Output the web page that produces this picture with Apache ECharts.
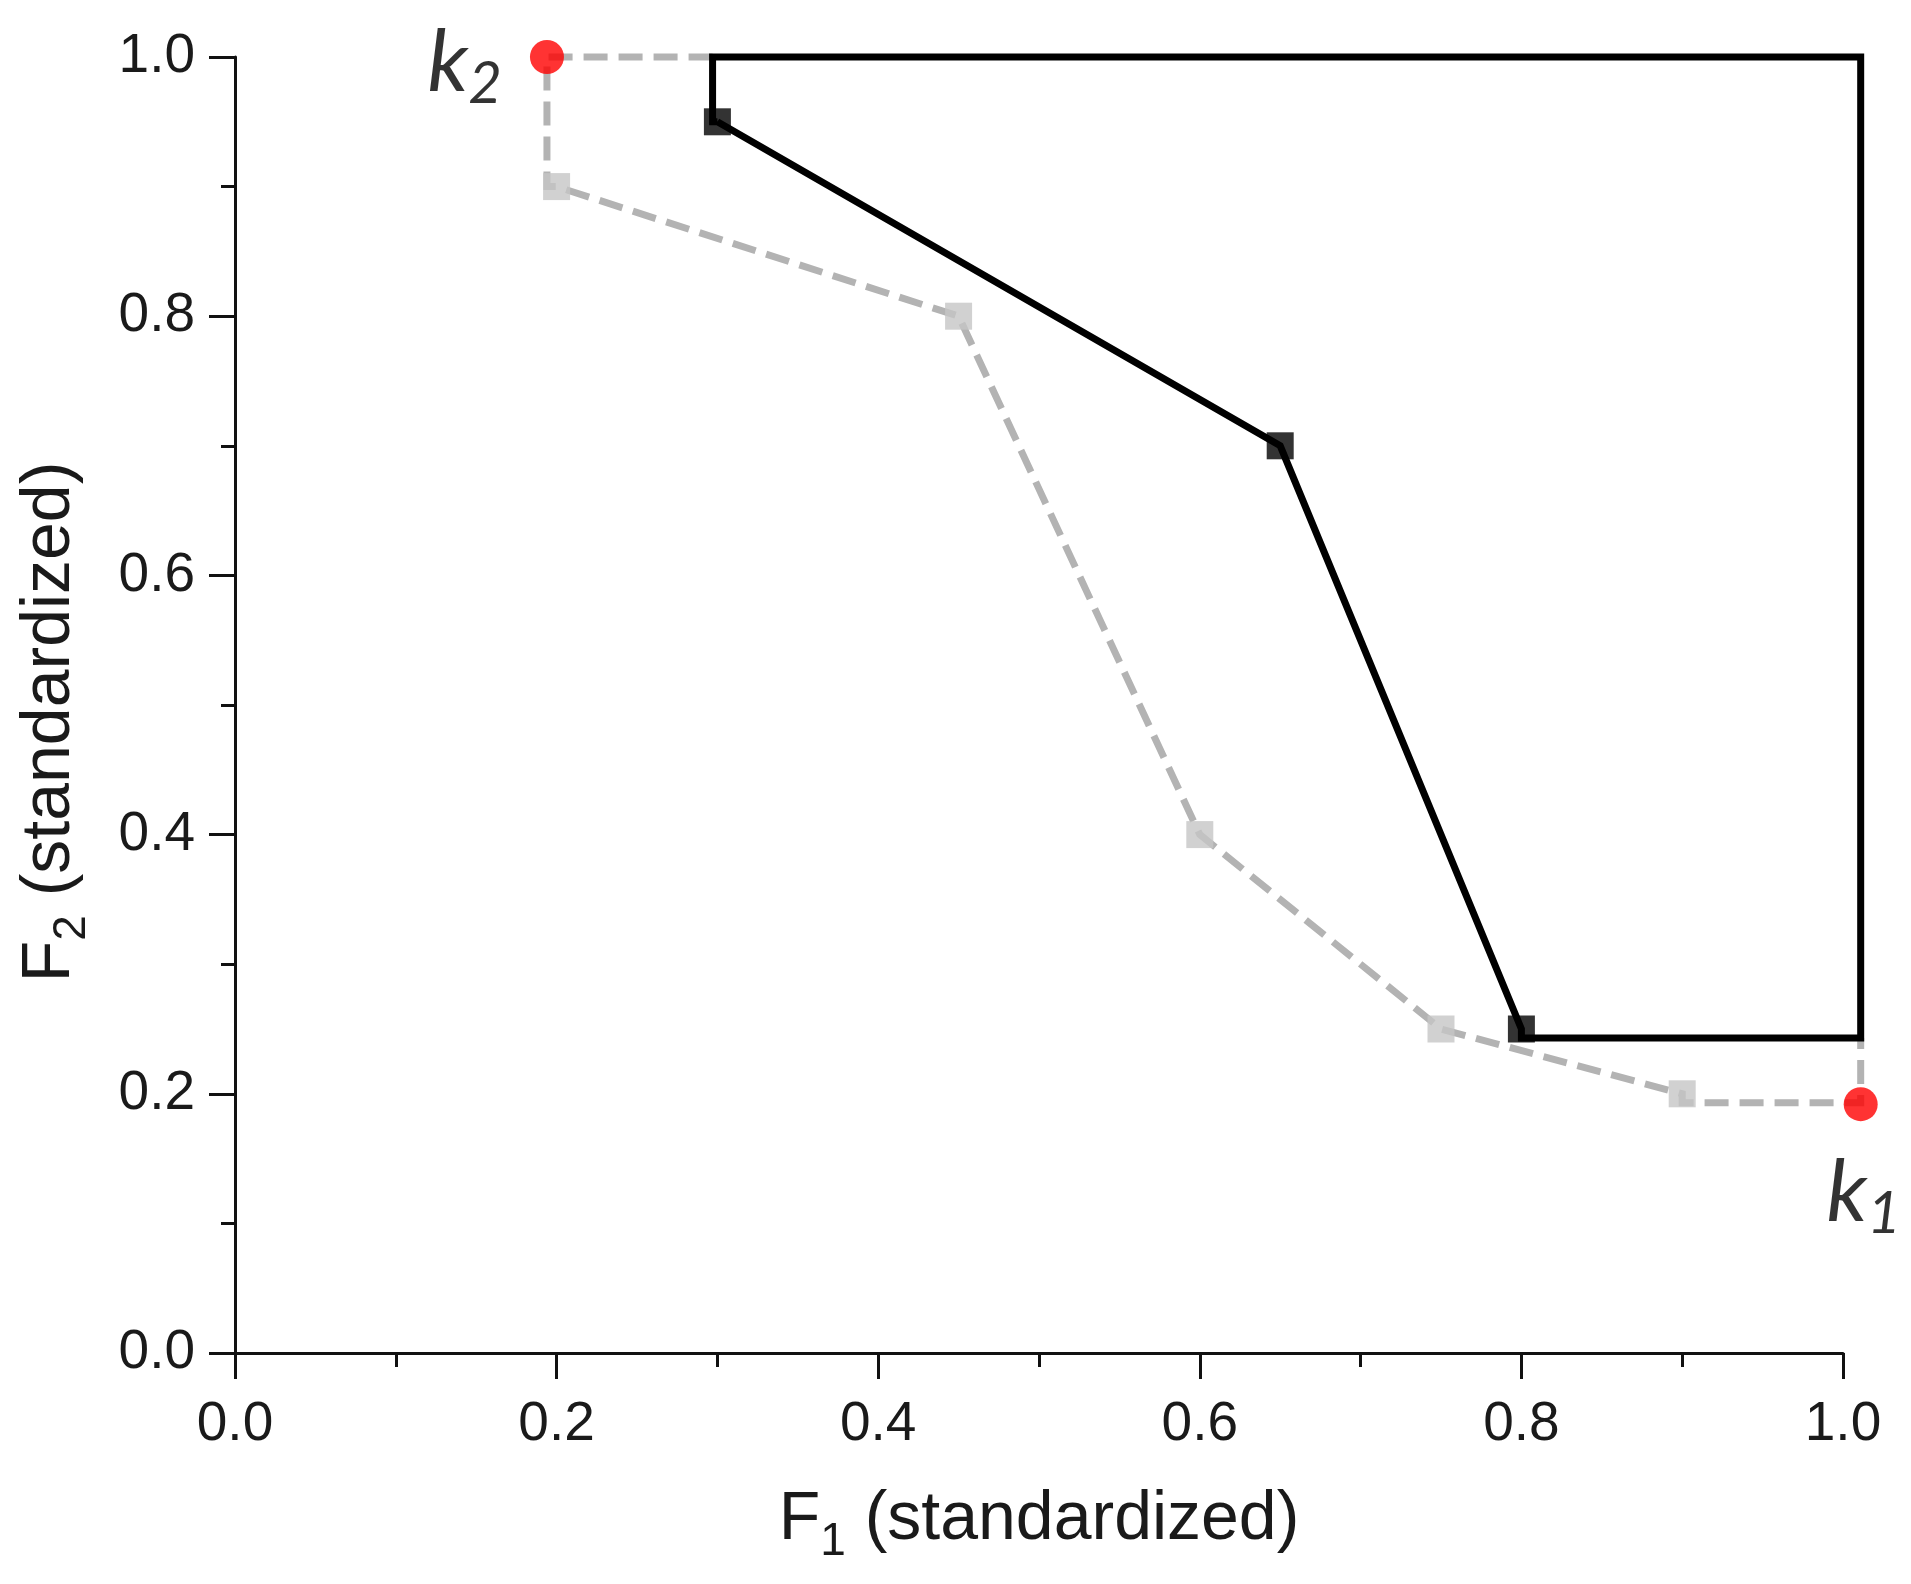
<!DOCTYPE html>
<html>
<head>
<meta charset="utf-8">
<script src="https://cdn.jsdelivr.net/npm/echarts@6/dist/echarts.min.js"></script>
<style>
  html, body { margin: 0; padding: 0; background: #fff; }
  #chart { width: 1911px; height: 1584px; }
</style>
</head>
<body>
<div id="chart"></div>
<script>
// 数据（F1, F2 都是标准化后的值）
const grayPath = [[0.297, 1.0], [0.194, 1.0], [0.194, 0.9], [0.2, 0.9], [0.45, 0.8], [0.6, 0.4], [0.75, 0.25], [0.9, 0.2], [0.9, 0.193], [1.011, 0.193], [1.011, 0.243]]
const grayPoints = [[0.2, 0.9], [0.45, 0.8], [0.6, 0.4], [0.75, 0.25], [0.9, 0.2]]
const blackPath = [[0.3, 0.95], [0.297, 0.95], [0.297, 1.0], [1.011, 1.0], [1.011, 0.243], [0.8, 0.243], [0.8, 0.25], [0.65, 0.7], [0.3, 0.95]]
const blackPoints = [[0.3, 0.95], [0.65, 0.7], [0.8, 0.25]]
const kPoints = [[0.194, 1.0], [1.011, 0.192]]
const kNames = ['2', '1']
const tickValues = [0, 0.2, 0.4, 0.6, 0.8, 1.0]

const chartDom = document.getElementById('chart')
const myChart = echarts.init(chartDom)

const tickFont = 'Liberation Sans, Arial, sans-serif'
const kFont = 'Lato, Open Sans, sans-serif'

// 折线用 custom 画，这样超出 1.0 的部分不会被裁掉
const pathSeries = (path, style, z) => ({
  type: 'custom',
  clip: false,
  silent: true,
  z: z,
  data: path,
  encode: { x: 0, y: 1 },
  renderItem: (params, api) => {
    if (params.dataIndex !== 0) return
    return {
      type: 'polyline',
      shape: { points: path.map(p => api.coord(p)) },
      style: Object.assign({ fill: null, lineJoin: 'miter' }, style)
    }
  }
})

const axisCommon = {
  type: 'value',
  min: 0,
  max: 1.0,
  interval: 0.2,
  splitLine: { show: false },
  axisLine: { show: true, lineStyle: { color: '#111', width: 3 } },
  axisTick: { show: true, inside: false, length: 26, lineStyle: { color: '#111', width: 3 } },
  minorTick: { show: true, splitNumber: 2, length: 14, lineStyle: { color: '#111', width: 3 } },
  axisLabel: {
    fontFamily: tickFont,
    fontSize: 55,
    color: '#1a1a1a',
    formatter: v => tickValues.includes(+v.toFixed(1)) ? v.toFixed(1) : ''
  },
  nameLocation: 'middle',
  nameTextStyle: {
    fontFamily: tickFont,
    fontSize: 68,
    color: '#1a1a1a',
    rich: {
      m: { fontFamily: tickFont, fontSize: 68, color: '#1a1a1a', lineHeight: 90 },
      s: { fontFamily: tickFont, fontSize: 46, color: '#1a1a1a', lineHeight: 46, verticalAlign: 'bottom' }
    }
  }
}

const option = {
  animation: false,
  grid: { left: 235, right: 68, top: 57, bottom: 231, containLabel: false, outerBoundsMode: 'none' },
  xAxis: Object.assign({}, axisCommon, {
    name: '{m|F}{s|1}{m| (standardized)}',
    nameGap: 122,
    axisLabel: Object.assign({}, axisCommon.axisLabel, { margin: 44 })
  }),
  yAxis: Object.assign({}, axisCommon, {
    name: '{m|F}{s|2}{m| (standardized)}',
    nameGap: 140,
    nameRotate: 90,
    nameTextStyle: Object.assign({}, axisCommon.nameTextStyle, { padding: [0, 34, 0, 0] }),
    axisLabel: Object.assign({}, axisCommon.axisLabel, { margin: 40 })
  }),
  series: [
    pathSeries(grayPath, { stroke: '#b3b3b3', lineWidth: 7, lineDash: [24, 11] }, 1),
    pathSeries(blackPath, { stroke: '#000', lineWidth: 7 }, 2),
    {
      type: 'scatter',
      data: grayPoints,
      clip: false,
      symbol: 'rect',
      symbolSize: 27,
      itemStyle: { color: '#c6c6c6' },
      z: 3
    },
    {
      type: 'scatter',
      data: blackPoints,
      clip: false,
      symbol: 'rect',
      symbolSize: 27,
      itemStyle: { color: '#000' },
      z: 4
    },
    {
      type: 'scatter',
      clip: false,
      symbol: 'circle',
      symbolSize: 34,
      itemStyle: { color: '#ff0000' },
      z: 5,
      data: kPoints.map((p, i) => ({
        value: p,
        label: {
          show: true,
          position: i === 0 ? 'left' : 'bottom',
          distance: i === 0 ? 28 : 22,
          offset: i === 0 ? [0, 6] : [3, 0],
          formatter: '{k|k}{n|' + kNames[i] + '}',
          rich: {
            k: { fontFamily: kFont, fontStyle: 'italic', fontSize: 86, color: '#000', lineHeight: 100 },
            n: { fontFamily: kFont, fontStyle: 'italic', fontSize: 58, color: '#000', lineHeight: 58, verticalAlign: 'bottom' }
          }
        }
      }))
    }
  ]
}
option && myChart.setOption(option)
</script>
</body>
</html>
